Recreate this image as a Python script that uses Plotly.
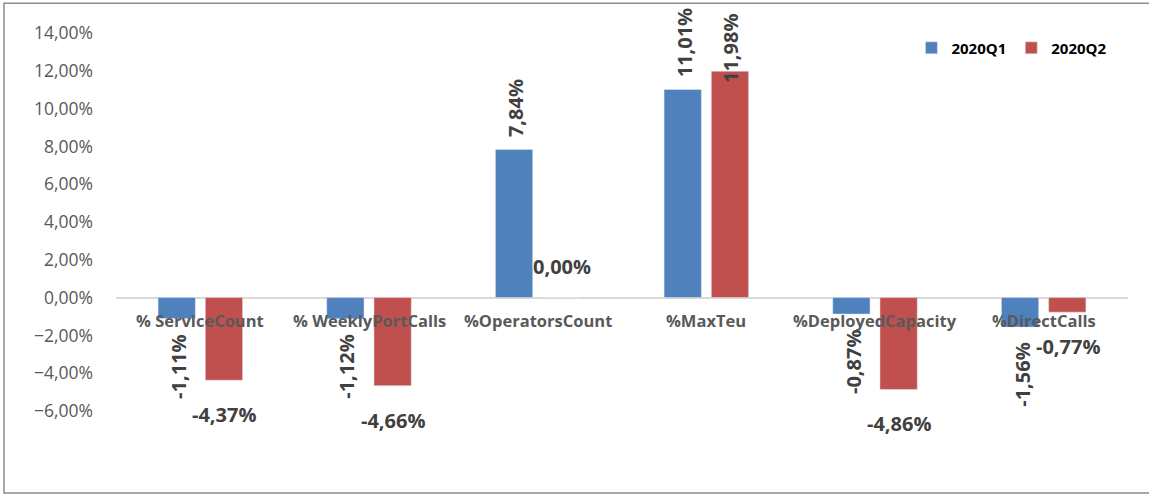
import plotly.graph_objects as go

categories = ["% ServiceCount", "% WeeklyPortCalls", "%OperatorsCount",
              "%MaxTeu", "%DeployedCapacity", "%DirectCalls"]
q1_values = [-0.0111, -0.0112, 0.0784, 0.1101, -0.0087, -0.0156]
q2_values = [-0.0437, -0.0466, 0.0, 0.1198, -0.0486, -0.0077]
# which Q2 labels Excel drew rotated
q2_rotated = [False, False, False, True, False, False]

blue = "#4F81BD"
red = "#C0504D"
label_font = dict(family="Open Sans", size=20, color="#404040")


def pct(v):
    return ("%.2f%%" % (v * 100)).replace(".", ",")


fig = go.Figure()
fig.add_trace(go.Bar(x=categories, y=q1_values, name="<b>2020Q1</b>",
                     marker=dict(color=blue), hoverinfo="skip"))
fig.add_trace(go.Bar(x=categories, y=q2_values, name="<b>2020Q2</b>",
                     marker=dict(color=red), hoverinfo="skip"))

annotations = []
# value labels
for cat, v in zip(categories, q1_values):
    annotations.append(dict(
        x=cat, y=v, xref="x", yref="y", text="<b>%s</b>" % pct(v),
        showarrow=False, textangle=-90, font=label_font, xshift=-22,
        yanchor="bottom" if v >= 0 else "top",
        yshift=10 if v >= 0 else -14))
for cat, v, rot in zip(categories, q2_values, q2_rotated):
    if rot:
        # Excel pushed this one down against the top of the chart, over the bar
        annotations.append(dict(
            x=cat, y=v, xref="x", yref="y", text="<b>%s</b>" % pct(v),
            showarrow=False, textangle=-90, font=label_font, xshift=24,
            yanchor="top", yshift=59))
    else:
        annotations.append(dict(
            x=cat, y=v, xref="x", yref="y", text="<b>%s</b>" % pct(v),
            showarrow=False, font=label_font, xshift=24,
            yanchor="bottom" if v >= 0 else "top",
            yshift=16 if v >= 0 else -19))
# category labels sitting right under the zero line
for cat in categories:
    annotations.append(dict(
        x=cat, y=0, xref="x", yref="y", text="<b>%s</b>" % cat,
        showarrow=False, yanchor="top", yshift=-9,
        font=dict(family="Open Sans", size=16.5, color="#595959")))

fig.update_layout(
    width=1149, height=495,
    margin=dict(l=116, r=21, t=33, b=84),
    paper_bgcolor="white", plot_bgcolor="white",
    separators=",.",
    barmode="group", bargap=0.44, bargroupgap=0.21,
    showlegend=True,
    legend=dict(orientation="h", x=0.786, y=0.96, xanchor="left", yanchor="middle",
                font=dict(family="Open Sans", size=15, color="black"),
                itemwidth=30, traceorder="normal"),
    annotations=annotations,
    shapes=[dict(type="rect", xref="paper", yref="paper",
                 x0=-0.1107, x1=1.05, y0=-0.217, y1=1.079,
                 line=dict(color="#8C8C8C", width=1.5))],
)
fig.update_xaxes(showticklabels=False, showgrid=False, zeroline=False,
                 showline=False, ticks="")
fig.update_yaxes(range=[-0.06, 0.14], dtick=0.02, tickformat=".2%",
                 showgrid=False, zeroline=True, zerolinecolor="#D9D9D9",
                 zerolinewidth=1.5, showline=False, ticklabelstandoff=22,
                 tickfont=dict(family="Open Sans", size=17.5, color="#595959"))

# drop the browser's default body margin so the chart sits at the page corner
fig.write_html("out.html", config={"displayModeBar": False},
               post_script="document.body.style.margin='0';")
